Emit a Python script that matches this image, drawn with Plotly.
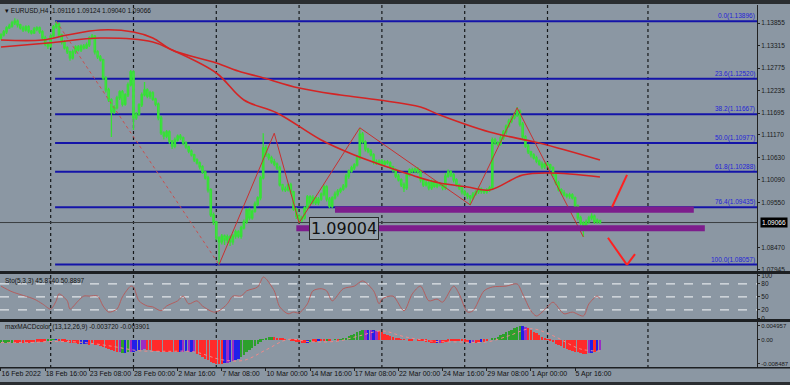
import plotly.graph_objects as go

# ---------------- data ----------------
symbol_header = "\u25be EURUSD,H4  1.09116 1.09124 1.09040 1.09066"
stoch_header = "Sto(5,3,3) 45.8740 50.8897"
macd_header = "maxMACDcolor (13,12,26,9) -0.003720 -0.003901"

date_labels = ["16 Feb 2022", "18 Feb 16:00", "23 Feb 08:00", "28 Feb 00:00", "2 Mar 16:00",
               "7 Mar 08:00", "10 Mar 00:00", "14 Mar 16:00", "17 Mar 08:00", "22 Mar 00:00",
               "24 Mar 16:00", "29 Mar 08:00", "1 Apr 00:00", "5 Apr 16:00"]
date_label_bars = [0, 16, 32, 48, 64, 80, 96, 112, 128, 144, 160, 176, 192, 208]

price_ticks = [1.13855, 1.13315, 1.12775, 1.12235, 1.11695, 1.11170, 1.10630,
               1.10090, 1.09550, 1.08470, 1.07945]
last_price = 1.09066

first_open = 1.1350
closes = [
    1.1357, 1.1364, 1.1374, 1.1378, 1.1386, 1.1390, 1.1381, 1.1374, 1.1369, 1.1376,
    1.1366, 1.1362, 1.1371, 1.1374, 1.1364, 1.1350, 1.1335, 1.1330, 1.1354, 1.1376,
    1.1383, 1.1357, 1.1340, 1.1326, 1.1316, 1.1302, 1.1316, 1.1328, 1.1321, 1.1330,
    1.1326, 1.1333, 1.1350, 1.1354, 1.1316, 1.1304, 1.1297, 1.1254, 1.1225, 1.1201,
    1.1172, 1.1182, 1.1206, 1.1220, 1.1191, 1.1213, 1.1237, 1.1268, 1.1158, 1.1167,
    1.1189, 1.1213, 1.1225, 1.1210, 1.1218, 1.1203, 1.1191, 1.1158, 1.1122, 1.1114,
    1.1124, 1.1102, 1.1090, 1.1105, 1.1114, 1.1110, 1.1098, 1.1088, 1.1078, 1.1069,
    1.1057, 1.1050, 1.1040, 1.1028, 1.1014, 1.0985, 1.0925, 1.0908, 1.0870, 1.0860,
    1.0874, 1.0865, 1.0872, 1.0860, 1.0874, 1.0884, 1.0874, 1.0894, 1.0908, 1.0937,
    1.0918, 1.0934, 1.0951, 1.0966, 1.1014, 1.1086, 1.1069, 1.1062, 1.1052, 1.1047,
    1.1038, 1.0997, 1.0987, 1.0985, 1.0997, 1.0980, 1.0939, 1.0922, 1.0913, 1.0918,
    1.0942, 1.0968, 1.0954, 1.0966, 1.0954, 1.0963, 1.0975, 1.0992, 1.0963, 1.0946,
    1.0966, 1.0975, 1.0982, 1.0987, 1.0994, 1.1018, 1.1030, 1.1038, 1.1045, 1.1062,
    1.1119, 1.1100, 1.1083, 1.1078, 1.1069, 1.1052, 1.1050, 1.1054, 1.1047, 1.1052,
    1.1050, 1.1040, 1.1033, 1.1018, 1.1009, 1.0997, 1.0990, 1.1021, 1.1033, 1.1030,
    1.1035, 1.1028, 1.1009, 1.0997, 1.1002, 1.0990, 1.1004, 1.0994, 1.0999, 1.0997,
    1.0990, 1.1018, 1.1028, 1.1021, 1.1009, 1.0997, 1.0990, 1.0980, 1.0975, 1.0970,
    1.0966, 1.0975, 1.0980, 1.0987, 1.0982, 1.0980, 1.0985, 1.0990, 1.1105, 1.1098,
    1.1095, 1.1110, 1.1124, 1.1138, 1.1150, 1.1158, 1.1165, 1.1174, 1.1143, 1.1112,
    1.1090, 1.1076, 1.1069, 1.1062, 1.1054, 1.1047, 1.1040, 1.1047, 1.1045, 1.1038,
    1.1021, 1.1002, 1.0985, 1.0978, 1.0973, 1.0970, 1.0973, 1.0966, 1.0946, 1.0918,
    1.0906, 1.0896, 1.0908, 1.0918, 1.0922, 1.0908, 1.09116, 1.09066,
]
# wick lengths in pips (0.0001)
wick_up = [
    4, 5, 4, 6, 5, 7, 4, 3, 5, 4,   4, 3, 5, 4, 3, 4, 5, 4, 6, 5,
    7, 4, 3, 5, 4, 3, 6, 4, 5, 4,   5, 6, 4, 5, 3, 4, 5, 3, 4, 5,
    4, 6, 5, 4, 5, 4, 6, 5, 4, 5,   4, 6, 19, 4, 5, 4, 3, 4, 5, 4,
    5, 4, 3, 6, 4, 5, 3, 4, 3, 4,   3, 4, 3, 4, 3, 5, 4, 6, 3, 4,
    5, 4, 6, 4, 5, 6, 4, 5, 6, 4,   5, 4, 6, 4, 5, 35, 6, 4, 5, 8,
    4, 5, 3, 6, 4, 5, 3, 4, 6, 5,   4, 5, 4, 6, 3, 5, 4, 6, 4, 5,
    4, 6, 5, 4, 5, 6, 4, 5, 4, 6,   14, 5, 4, 3, 5, 4, 6, 4, 5, 4,
    5, 4, 3, 4, 5, 4, 6, 5, 4, 5,   4, 5, 6, 4, 5, 4, 6, 5, 4, 5,
    4, 7, 6, 4, 5, 4, 3, 4, 5, 4,   3, 5, 4, 6, 4, 5, 4, 5, 6, 5,
    4, 6, 5, 4, 6, 5, 7, 10, 4, 5,  4, 5, 3, 4, 5, 4, 6, 4, 5, 3,
    4, 3, 5, 4, 6, 4, 5, 4, 3, 4,   5, 4, 6, 5, 7, 4, 5, 0.8,
]
wick_dn = [
    5, 4, 5, 3, 4, 5, 6, 4, 5, 4,   5, 4, 3, 5, 4, 6, 5, 7, 4, 3,
    4, 5, 6, 4, 5, 7, 4, 5, 4, 5,   4, 3, 5, 4, 6, 5, 4, 5, 6, 5,
    60, 5, 4, 5, 6, 4, 5, 4, 29, 5, 4, 5, 4, 5, 6, 4, 5, 6, 5, 8,
    5, 6, 7, 5, 4, 5, 6, 4, 5, 4,   5, 4, 6, 5, 4, 6, 5, 7, 6, 54,
    6, 12, 8, 10, 7, 6, 5, 6, 4, 5, 6, 5, 4, 5, 6, 4, 5, 6, 4, 5,
    5, 4, 6, 5, 4, 6, 5, 7, 7, 5,   4, 6, 5, 4, 5, 6, 4, 5, 6, 5,
    5, 4, 6, 5, 4, 5, 6, 4, 5, 4,   5, 4, 6, 5, 4, 6, 5, 4, 5, 6,
    4, 5, 6, 5, 4, 5, 10, 5, 4, 5,  5, 4, 6, 5, 4, 6, 5, 4, 5, 4,
    6, 5, 4, 5, 6, 4, 5, 6, 5, 7,   17, 5, 4, 5, 6, 5, 4, 5, 4, 5,
    5, 4, 5, 6, 4, 5, 4, 5, 6, 5,   4, 5, 6, 4, 5, 4, 6, 5, 4, 5,
    5, 6, 4, 5, 4, 5, 6, 4, 5, 6,   5, 24, 5, 4, 6, 5, 4, 2.6,
]

# moving averages read at sample bars
ma_slow_bars = [0, 15, 24, 36, 48, 55, 62, 78, 87, 94, 108, 123, 137, 152, 159, 177, 195, 217]
ma_slow_vals = [1.13447, 1.13447, 1.13567, 1.13687, 1.13639, 1.13495, 1.13207, 1.12895, 1.12679,
                1.12559, 1.12295, 1.12127, 1.12007, 1.11839, 1.11647, 1.11239, 1.10975, 1.10567]
ma_fast_bars = [0, 17, 36, 55, 62, 78, 88, 100, 116, 128, 140, 152, 159, 169, 177, 189, 199, 217]
ma_fast_vals = [1.13279, 1.13375, 1.13495, 1.13399, 1.13207, 1.12655, 1.12007, 1.11695, 1.11047,
                1.10687, 1.10399, 1.10135, 1.10015, 1.09919, 1.09847, 1.10207, 1.10255, 1.10159]

# zigzag swing points
zz_bars = [20, 79, 99, 108, 130, 170, 187, 211]
zz_vals = [1.13896, 1.08057, 1.1121, 1.0906, 1.1134, 1.0949, 1.1182, 1.0872]

# fibonacci levels
fib_pcts = [0.0, 23.6, 38.2, 50.0, 61.8, 76.4, 100.0]
fib_prices = [1.13896, 1.12520, 1.11667, 1.10977, 1.10288, 1.09435, 1.08057]
fib_start_bar = 19.6

# purple zones (bar from, bar to, price low, price high)
zones = [(121, 251, 1.0930, 1.0945), (107, 255, 1.0886, 1.0900)]
zone_label = "1.09004"

# stochastic
stoch_bars = [0, 4, 12, 15, 18, 20, 21, 24, 25, 28, 30, 32, 35, 37, 39, 42, 44, 47, 48, 50, 53, 55,
              58, 60, 64, 66, 68, 71, 73, 77, 79, 82, 84, 87, 89, 93, 95, 96, 99, 101, 104, 106,
              108, 111, 113, 116, 118, 120, 124, 128, 131, 135, 137, 138, 142, 146, 149, 152,
              155, 158, 160, 164, 166, 169, 171, 175, 178, 183, 187, 189, 192, 194, 198, 200,
              204, 207, 211, 213, 216, 217]
stoch_vals = [75, 62, 45, 34, 22, 41, 57, 41, 22, 41, 52, 52, 52, 29, 15, 22, 50, 75, 73, 41, 29, 27,
              18, 29, 41, 52, 34, 41, 29, 15, 18, 34, 52, 52, 64, 73, 96, 92, 64, 27, 11, 15,
              13, 34, 64, 69, 64, 41, 69, 75, 87, 64, 34, 45, 52, 18, 57, 75,
              41, 45, 38, 75, 57, 15, 18, 64, 73, 75, 80, 57, 18, 6, 27, 38,
              11, 15, 6, 34, 52, 46]
stoch_levels = [20, 50, 80]

# MACD histogram, in units of 1e-4
macd_e4 = [
    -10, -11, -12, -11, -10,
    -9, -9, -8, -9, -10, -9, -8, -8, -7, -7, -6, -5,
    -3, -1, 1, 2,
    -2, -4, -6, -8, -9, -10, -12, -13, -14, -14, -15, -16, -15, -17, -18,
    -20, -24, -28, -32, -36, -40, -43,
    -44, -46, -45, -43, -44, -42,
    -38, -36, -34, -33, -35, -37, -38, -40,
    -40, -41, -42, -43, -44, -44, -43, -42,
    -42, -41, -40, -42, -41, -43,
    -48, -54, -60, -66, -72, -77,
    -81, -84, -85, -84,
    -82, -80, -77, -74, -70, -66,
    -60, -52, -44, -36, -28, -20, -13, -7,
    2, 6, 9, 11, 10, 8,
    6, 4, 2, 0, -3, -5, -7, -8,
    -9, -10, -9, -8, -7, -6, -5, -4,
    -3, -2, -1, 0, 1, -1, 1,
    4, 8, 13, 18, 23, 28, 33, 36,
    37, 36, 35, 34, 33, 31,
    27, 23, 19, 15, 11, 7, 4,
    2, 1, 0, -1, -1, 0, -1,
    -3, -5, -7, -8, -9, -10, -10, -11, -10,
    -8, -7, -5, -4, -3, -4, -5,
    -6, -8, -9, -10, -9, -8, -7, -6, -5,
    0, 4, 8, 12, 17, 22, 27, 32, 37, 42, 46, 49,
    48, 45,
    42, 36, 30, 24, 18, 12, 7, 2,
    -3, -8, -13, -18, -23, -27, -31, -35, -38, -41, -44, -46, -48, -49,
    -47, -45, -42, -39, -37,
]
macd_color_codes = ("ggggg" + "rrrrrrrrrrrr" + "gggb" + "rrrrrrrr" + "bbb" + "rrrr" + "rrrrrrr"
                    + "pgbgpb" + "bbpprrrr" + "rrrrrrrr" + "bpbpbp" + "rrrrrr" + "rrrr" + "bpbpbb"
                    + "gggggggg" + "ggggrr" + "rrrrrrrr" + "rrbgrrbr" + "rgrggrg" + "gggggggg"
                    + "pbpbpr" + "rrrrrrr" + "rrrrrrr" + "rrrrrrbpr" + "rrrrrrr" + "rrbprrbrr"
                    + "gggggggggggg" + "bp" + "rrrrrrrr" + "rrrrrrrrrrrrrr" + "pbrbp")
macd_sig_bars = [0, 10, 20, 30, 40, 50, 60, 70, 80, 88, 96, 104, 112, 122, 130, 138, 146, 156,
                 166, 176, 184, 192, 200, 210, 217]
macd_sig_e4 = [-9, -9, -5, -9, -22, -38, -40, -42, -70, -72, -35, 2, -6, -4, 15, 32, 12, -4,
               -7, -7, 15, 40, 15, -32, -39]
macd_axis_ticks = [0.004957, 0.0, -0.008487]
macd_axis_text = ["0.004957", "0.00", "-0.008487"]

grid_bars = [18, 48, 78, 108, 138, 168, 198, 234.4]

# ---------------- build ----------------
n = len(closes)
bars = list(range(n))
pip = 0.0001
opens = [first_open] + closes[:-1]
highs = [max(o, c) + wick_up[i] * pip for i, (o, c) in enumerate(zip(opens, closes))]
lows = [min(o, c) - wick_dn[i] * pip for i, (o, c) in enumerate(zip(opens, closes))]

macd = [v * 1e-4 for v in macd_e4]
macd_sig = [v * 1e-4 for v in macd_sig_e4]
codes = (macd_color_codes + "r" * n)[:len(macd)]
cmap = {"g": "#2ca02c", "r": "#ff2a2a", "b": "#2020e8", "p": "#9a2cc4"}
macd_colors = [cmap[c] for c in codes]

BG = "#8b97a3"
DARK = "#1c1f22"
FONT = "Liberation Sans, Arial, sans-serif"

# layout geometry (pixel based)
W, H = 790, 385
ML, MR, MT, MB = 0, 33, 4, 17
PH = H - MT - MB


def dom(top_px, bot_px):
    return [(H - MB - bot_px) / PH, (H - MB - top_px) / PH]


price_dom = dom(5, 271)
stoch_dom = dom(274, 319)
macd_dom = dom(322, 367)
x_range = [-0.36, 273.9]

fig = go.Figure()

fig.add_trace(go.Candlestick(
    x=bars, open=opens, high=highs, low=lows, close=closes,
    xaxis="x", yaxis="y",
    increasing=dict(line=dict(color="#36e036", width=1.3), fillcolor="#4cf44c"),
    decreasing=dict(line=dict(color="#36e036", width=1.3), fillcolor="#c8ffc8"),
    hoverinfo="skip", showlegend=False,
))
fig.add_trace(go.Scatter(x=ma_slow_bars, y=ma_slow_vals, mode="lines", yaxis="y",
                         line=dict(color="#d42424", width=1.6, shape="spline"), hoverinfo="skip"))
fig.add_trace(go.Scatter(x=ma_fast_bars, y=ma_fast_vals, mode="lines", yaxis="y",
                         line=dict(color="#d42424", width=1.6, shape="spline"), hoverinfo="skip"))
fig.add_trace(go.Scatter(x=zz_bars[:2], y=zz_vals[:2], mode="lines", yaxis="y",
                         line=dict(color="#c85050", width=1, dash="dot"), hoverinfo="skip"))
fig.add_trace(go.Scatter(x=zz_bars[1:], y=zz_vals[1:], mode="lines", yaxis="y",
                         line=dict(color="#c83030", width=1), hoverinfo="skip"))

fig.add_trace(go.Scatter(x=stoch_bars, y=stoch_vals, mode="lines", yaxis="y2",
                         line=dict(color="#b45e5e", width=1, shape="spline", smoothing=0.8),
                         hoverinfo="skip"))

fig.add_trace(go.Bar(x=bars, y=macd, yaxis="y3", marker=dict(color=macd_colors, line=dict(width=0)),
                     width=0.85, hoverinfo="skip"))
fig.add_trace(go.Scatter(x=macd_sig_bars, y=macd_sig, mode="lines", yaxis="y3",
                         line=dict(color="#f08a8a", width=1, dash="dot", shape="spline"),
                         hoverinfo="skip"))

shapes = []
XR = W / (W - MR)
# panel separators / borders
for y0p, y1p in [(price_dom[0] - 3 / PH, price_dom[0]), (stoch_dom[0] - 3 / PH, stoch_dom[0])]:
    shapes.append(dict(type="rect", xref="paper", yref="paper", x0=0, x1=XR,
                       y0=y0p, y1=y1p, fillcolor=DARK, line=dict(width=0), layer="above"))
shapes.append(dict(type="rect", xref="paper", yref="paper", x0=0, x1=XR,
                   y0=1.0, y1=(H - MB) / PH + 0.01, fillcolor="#2a2d30", line=dict(width=0)))
shapes.append(dict(type="rect", xref="paper", yref="paper", x0=0, x1=XR,
                   y0=-(MB) / PH - 0.01, y1=-(MB - 3) / PH, fillcolor="#2a2d30", line=dict(width=0)))
shapes.append(dict(type="rect", xref="paper", yref="paper", x0=0, x1=XR,
                   y0=macd_dom[0] - 1.5 / PH, y1=macd_dom[0], fillcolor=DARK, line=dict(width=0)))

# vertical dotted grid
for gb in grid_bars:
    shapes.append(dict(type="line", xref="x", yref="paper", x0=gb, x1=gb, y0=0, y1=1,
                       line=dict(color="#15181a", width=1.2, dash="dot"), layer="below"))

# stochastic levels
for lv in stoch_levels:
    shapes.append(dict(type="line", xref="x", yref="y2", x0=x_range[0], x1=x_range[1], y0=lv, y1=lv,
                       line=dict(color="#e2e6ea", width=1.2, dash="dash"), layer="below"))

# fib lines
for pr in fib_prices:
    shapes.append(dict(type="line", xref="x", yref="y", x0=fib_start_bar, x1=x_range[1], y0=pr, y1=pr,
                       line=dict(color="#1414a8", width=2), layer="below"))

# current price line
shapes.append(dict(type="line", xref="x", yref="y", x0=x_range[0], x1=x_range[1],
                   y0=last_price, y1=last_price, line=dict(color="#3a3d40", width=1), layer="below"))

# purple zones
for b0, b1, p0, p1 in zones:
    shapes.append(dict(type="rect", xref="x", yref="y", x0=b0, x1=b1, y0=p0, y1=p1,
                       fillcolor="#7d1d8c", line=dict(width=0), layer="above"))

# hand drawn red arrows
arrows = [((221.4, 1.0944), (226.8, 1.1021)), ((219.9, 1.0870), (226.8, 1.0805)),
          ((226.8, 1.0805), (229.7, 1.0831))]
for (ax0, ay0), (ax1, ay1) in arrows:
    shapes.append(dict(type="line", xref="x", yref="y", x0=ax0, y0=ay0, x1=ax1, y1=ay1,
                       line=dict(color="#ff2020", width=2)))

annotations = []
for pct, pr in zip(fib_pcts, fib_prices):
    annotations.append(dict(x=x_range[1], y=pr, xref="x", yref="y", xanchor="right", yanchor="bottom",
                            text=f"{pct:.1f}({pr:.5f})", showarrow=False, yshift=-1,
                            font=dict(family=FONT, size=6.5, color="#2424d8")))
annotations.append(dict(x=111.6, y=1.08935, xref="x", yref="y", xanchor="left", yanchor="middle",
                        text=zone_label, showarrow=False, bgcolor="#98a3ad", bordercolor="#2a2a2a",
                        borderwidth=1, borderpad=1,
                        font=dict(family="DejaVu Sans, sans-serif", size=16, color="#111")))
annotations.append(dict(x=1.0, y=last_price, xref="paper", yref="y", xanchor="left", yanchor="middle",
                        text=f"{last_price:.5f}", showarrow=False, bgcolor="#000000", borderpad=1,
                        xshift=3, font=dict(family=FONT, size=6.5, color="#ffffff")))
annotations.append(dict(x=0.004, y=(H - MB - 10) / PH, xref="paper", yref="paper", xanchor="left",
                        yanchor="middle", text=symbol_header, showarrow=False,
                        font=dict(family=FONT, size=6.5, color="#111")))
annotations.append(dict(x=0.004, y=(H - MB - 281) / PH, xref="paper", yref="paper", xanchor="left",
                        yanchor="middle", text=stoch_header, showarrow=False,
                        font=dict(family=FONT, size=6.5, color="#111")))
annotations.append(dict(x=0.004, y=(H - MB - 327) / PH, xref="paper", yref="paper", xanchor="left",
                        yanchor="middle", text=macd_header, showarrow=False,
                        font=dict(family=FONT, size=6.5, color="#111")))

axis_common = dict(side="right", anchor="x", showgrid=False, zeroline=False, ticks="outside",
                   ticklen=2, tickcolor="#222", showline=True, linecolor="#222", linewidth=1,
                   automargin=False, fixedrange=True)
tfont = dict(family=FONT, size=6.5, color="#1a1a1a")

fig.update_layout(
    width=W, height=H, margin=dict(l=ML, r=MR, t=MT, b=MB, autoexpand=False),
    paper_bgcolor=BG, plot_bgcolor=BG, showlegend=False, hovermode=False,
    bargap=0,
    xaxis=dict(domain=[0, 1], range=x_range, anchor="y3", showgrid=False, zeroline=False,
               tickvals=date_label_bars, ticktext=date_labels, ticks="outside", ticklen=3,
               tickcolor="#222", ticklabelposition="outside right", tickangle=0,
               automargin=False,
               tickfont=dict(family=FONT, size=7, color="#111"),
               rangeslider=dict(visible=False), showline=False, fixedrange=True),
    yaxis=dict(domain=price_dom, range=[1.07903, 1.14287], tickvals=price_ticks,
               ticktext=[f"{v:.5f}" for v in price_ticks], tickfont=tfont, **axis_common),
    yaxis2=dict(domain=stoch_dom, range=[-1, 103], tickvals=[0, 20, 50, 80, 100],
                ticktext=["0", "20", "50", "80", "100"], tickfont=tfont, **axis_common),
    yaxis3=dict(domain=macd_dom, range=[-0.00956, 0.00637], tickvals=macd_axis_ticks,
                ticktext=macd_axis_text, tickfont=dict(family=FONT, size=6, color="#1a1a1a"),
                **axis_common),
    shapes=shapes, annotations=annotations,
)

fig.write_html("out.html")
